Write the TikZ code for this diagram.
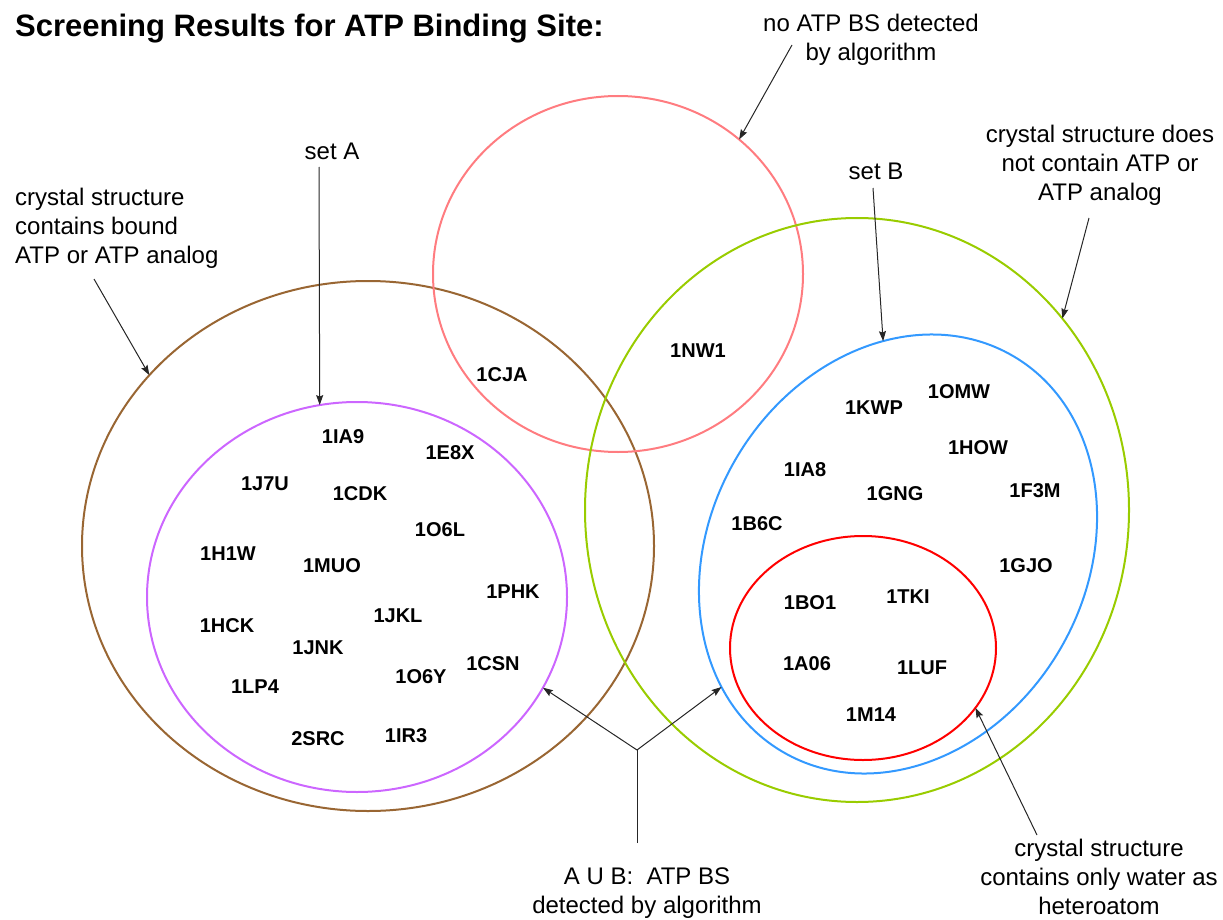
\documentclass[tikz,border=0pt]{standalone}
\usepackage{fontspec}
\setmainfont{Liberation Sans}
\usetikzlibrary{shapes.geometric,arrows.meta}

\definecolor{brownC}{RGB}{153,102,51}
\definecolor{purpleC}{RGB}{204,102,255}
\definecolor{pinkC}{RGB}{255,124,128}
\definecolor{greenC}{RGB}{153,204,0}
\definecolor{blueC}{RGB}{51,153,255}
\definecolor{redC}{RGB}{255,0,0}

\tikzset{
  setring/.style={ellipse, draw=#1, line width=2pt, inner sep=0pt, outer sep=0pt},
  pdb/.style={font=\bfseries\fontsize{20}{24}\selectfont, inner sep=0pt},
  note/.style={font=\fontsize{24}{29}\selectfont, inner sep=0pt, align=center},
  pointer/.style={draw=black!85, line width=1pt, -{Stealth[length=10pt,width=7pt,inset=1.5pt]}},
  stem/.style={draw=black!85, line width=1pt}
}

\begin{document}
\begin{tikzpicture}[x=1pt, y=-1pt]
\useasboundingbox (0,0) rectangle (1223,920);

% title
\node[anchor=west, inner sep=0pt, font=\bfseries\fontsize{31}{37}\selectfont] (title) at (15,29) {Screening Results for ATP Binding Site:};

% set outlines
\node[setring=brownC,  minimum width=572pt, minimum height=530pt] (bound) at (368,546) {};
\node[setring=purpleC, minimum width=420pt, minimum height=390pt] (setA)  at (357,597) {};
\node[setring=pinkC,   minimum width=370pt, minimum height=356pt] (nobs)  at (618,274) {};
\node[setring=greenC,  minimum width=544pt, minimum height=584pt] (nobound) at (857,510) {};
\node[setring=blueC,   minimum width=458pt, minimum height=376pt, rotate=60] (setB) at (898,554) {};
\node[setring=redC,    minimum width=266pt, minimum height=224pt] (water) at (863,648) {};

% PDB entries of set A
\node[pdb] (s1IA9) at (343,437) {1IA9};
\node[pdb] (s1E8X) at (450,453) {1E8X};
\node[pdb] (s1J7U) at (265,484) {1J7U};
\node[pdb] (s1CDK) at (360,494) {1CDK};
\node[pdb] (s1O6L) at (440,530) {1O6L};
\node[pdb] (s1H1W) at (228,554) {1H1W};
\node[pdb] (s1MUO) at (332,566) {1MUO};
\node[pdb] (s1PHK) at (513,592) {1PHK};
\node[pdb] (s1JKL) at (398,616) {1JKL};
\node[pdb] (s1HCK) at (227,626) {1HCK};
\node[pdb] (s1JNK) at (318,648) {1JNK};
\node[pdb] (s1CSN) at (493,664) {1CSN};
\node[pdb] (s1O6Y) at (421,677) {1O6Y};
\node[pdb] (s1LP4) at (255,687) {1LP4};
\node[pdb] (s2SRC) at (318,739) {2SRC};
\node[pdb] (s1IR3) at (406,736) {1IR3};

% entries missed by the algorithm
\node[pdb] (s1CJA) at (502,375) {1CJA};
\node[pdb] (s1NW1) at (698,351) {1NW1};

% PDB entries of set B
\node[pdb] (s1KWP) at (874,408) {1KWP};
\node[pdb] (s1OMW) at (959,392) {1OMW};
\node[pdb] (s1HOW) at (978,448) {1HOW};
\node[pdb] (s1IA8) at (805,470) {1IA8};
\node[pdb] (s1GNG) at (895,494) {1GNG};
\node[pdb] (s1F3M) at (1035,491) {1F3M};
\node[pdb] (s1B6C) at (757,524) {1B6C};
\node[pdb] (s1GJO) at (1026,566) {1GJO};
\node[pdb] (s1BO1) at (810,603) {1BO1};
\node[pdb] (s1TKI) at (908,597) {1TKI};
\node[pdb] (s1A06) at (807,664) {1A06};
\node[pdb] (s1LUF) at (922,668) {1LUF};
\node[pdb] (s1M14) at (871,715) {1M14};

% annotations
\node[note, align=left, anchor=west] (nBound) at (15,228) {crystal structure\\contains bound\\ATP or ATP analog};
\node[note] (nSetA) at (332,151) {set A};
\node[note] (nNoBS) at (871,40) {no ATP BS detected\\by algorithm};
\node[note] (nSetB) at (876,171) {set B};
\node[note] (nNoBound) at (1100,165) {crystal structure does\\not contain ATP or\\ATP analog};
\node[note] (nUnion) at (647,893) {A U B:\ \ ATP BS\\detected by algorithm};
\node[note] (nWater) at (1099,877) {crystal structure\\contains only water as\\heteroatom};

% pointer tails
\coordinate (tBound) at (94,279);
\coordinate (tSetA) at (319,167);
\coordinate (tNoBS) at (792,45);
\coordinate (tSetB) at (873,188);
\coordinate (tNoBound) at (1089,218);
\coordinate (tWater) at (1037,835);
\coordinate (forkFoot) at (637,843);
\coordinate (fork) at (637,750);

% pointers
\draw[pointer] (tBound) -- (bound.142);
\draw[pointer] (tSetA) -- (setA.101.2);
\draw[pointer] (tNoBS) -- (nobs.48.5);
\draw[pointer] (tSetB) -- (setB.34);
\draw[pointer] (tNoBound) -- (nobound.43.2);
\draw[pointer] (tWater) -- (water.-28.5);
\draw[stem] (forkFoot) -- (fork);
\draw[pointer] (fork) -- (setA.-26.2);
\draw[pointer] (fork) -- (setB.157.2);
\end{tikzpicture}
\end{document}
